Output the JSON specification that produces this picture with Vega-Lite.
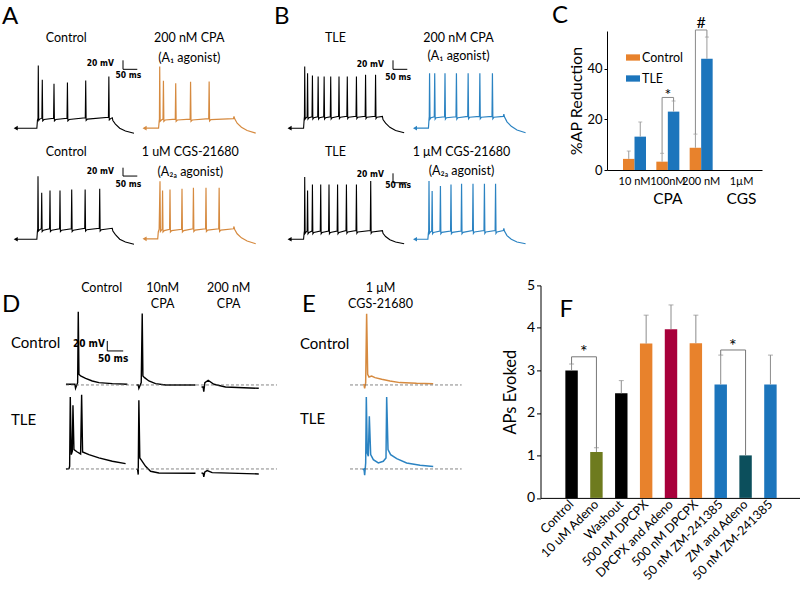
{
"$schema":"https://vega.github.io/schema/vega-lite/v6.json",
"background":"white",
"padding":{"left":2,"top":4,"right":0,"bottom":0},
"config":{"font":"Lato","view":{"stroke":null},
 "axis":{"labelColor":"#000","titleColor":"#000","domainColor":"#000","tickColor":"#000","grid":false,"titleFontWeight":"normal"},
 "legend":{"labelColor":"#000"},"text":{"color":"#000"}},
"datasets":{
"traces":[
{"id":"A1","t":6,"v":-77},{"id":"A1","t":80,"v":-77},{"id":"A1","t":82,"v":-60},{"id":"A1","t":84,"v":-55},{"id":"A1","t":85,"v":61},{"id":"A1","t":86.5,"v":-60},{"id":"A1","t":90,"v":-57},{"id":"A1","t":97.5,"v":-55},{"id":"A1","t":99,"v":29.3},{"id":"A1","t":100.5,"v":-61},{"id":"A1","t":105,"v":-58},{"id":"A1","t":138.5,"v":-55},{"id":"A1","t":140,"v":20.5},{"id":"A1","t":141.5,"v":-61},{"id":"A1","t":146,"v":-58},{"id":"A1","t":185.5,"v":-55},{"id":"A1","t":187,"v":23.4},{"id":"A1","t":188.5,"v":-61},{"id":"A1","t":193,"v":-58},{"id":"A1","t":249.5,"v":-54},{"id":"A1","t":251,"v":27.8},{"id":"A1","t":252.5,"v":-60},{"id":"A1","t":257,"v":-57},{"id":"A1","t":330.5,"v":-53},{"id":"A1","t":332,"v":36.7},{"id":"A1","t":333.5,"v":-59},{"id":"A1","t":338,"v":-56},{"id":"A1","t":344,"v":-54},{"id":"A1","t":346,"v":-60},{"id":"A1","t":355,"v":-68},{"id":"A1","t":370,"v":-77},{"id":"A1","t":390,"v":-83},{"id":"A1","t":420,"v":-88},
{"id":"A2","t":9,"v":-77},{"id":"A2","t":58,"v":-77},{"id":"A2","t":60,"v":-62},{"id":"A2","t":61,"v":-57},{"id":"A2","t":62,"v":58.6},{"id":"A2","t":63.5,"v":-62},{"id":"A2","t":68,"v":-59},{"id":"A2","t":73.5,"v":-57},{"id":"A2","t":75,"v":27.1},{"id":"A2","t":76.5,"v":-62},{"id":"A2","t":81,"v":-59},{"id":"A2","t":116.5,"v":-57},{"id":"A2","t":118,"v":22},{"id":"A2","t":119.5,"v":-62},{"id":"A2","t":124,"v":-59},{"id":"A2","t":168.5,"v":-57},{"id":"A2","t":170,"v":24.9},{"id":"A2","t":171.5,"v":-62},{"id":"A2","t":176,"v":-59},{"id":"A2","t":233.5,"v":-56},{"id":"A2","t":235,"v":25.6},{"id":"A2","t":236.5,"v":-61},{"id":"A2","t":241,"v":-58},{"id":"A2","t":320,"v":-56},{"id":"A2","t":322,"v":-51},{"id":"A2","t":324,"v":-56},{"id":"A2","t":333,"v":-66},{"id":"A2","t":348,"v":-75},{"id":"A2","t":368,"v":-82},{"id":"A2","t":398,"v":-88},
{"id":"A3","t":6,"v":-78},{"id":"A3","t":80,"v":-78},{"id":"A3","t":82,"v":-60},{"id":"A3","t":83,"v":-55},{"id":"A3","t":84,"v":60.8},{"id":"A3","t":85.5,"v":-60},{"id":"A3","t":90,"v":-57},{"id":"A3","t":95.5,"v":-55},{"id":"A3","t":97,"v":24.2},{"id":"A3","t":98.5,"v":-61},{"id":"A3","t":103,"v":-58},{"id":"A3","t":124.5,"v":-55},{"id":"A3","t":126,"v":29.3},{"id":"A3","t":127.5,"v":-61},{"id":"A3","t":132,"v":-58},{"id":"A3","t":159.5,"v":-55},{"id":"A3","t":161,"v":29.3},{"id":"A3","t":162.5,"v":-61},{"id":"A3","t":167,"v":-58},{"id":"A3","t":200.5,"v":-55},{"id":"A3","t":202,"v":31.5},{"id":"A3","t":203.5,"v":-61},{"id":"A3","t":208,"v":-58},{"id":"A3","t":247.5,"v":-54},{"id":"A3","t":249,"v":31.5},{"id":"A3","t":250.5,"v":-60},{"id":"A3","t":255,"v":-57},{"id":"A3","t":298.5,"v":-54},{"id":"A3","t":300,"v":33},{"id":"A3","t":301.5,"v":-60},{"id":"A3","t":306,"v":-57},{"id":"A3","t":344,"v":-54},{"id":"A3","t":346,"v":-60},{"id":"A3","t":355,"v":-68},{"id":"A3","t":370,"v":-78},{"id":"A3","t":390,"v":-84},{"id":"A3","t":420,"v":-89},
{"id":"A4","t":9,"v":-77},{"id":"A4","t":55,"v":-77},{"id":"A4","t":57,"v":-62},{"id":"A4","t":60,"v":-56},{"id":"A4","t":63,"v":49.8},{"id":"A4","t":64.5,"v":-61},{"id":"A4","t":68,"v":-58},{"id":"A4","t":70.5,"v":-56},{"id":"A4","t":72,"v":29.3},{"id":"A4","t":73.5,"v":-62},{"id":"A4","t":78,"v":-59},{"id":"A4","t":96.5,"v":-56},{"id":"A4","t":98,"v":31.5},{"id":"A4","t":99.5,"v":-62},{"id":"A4","t":104,"v":-59},{"id":"A4","t":138.5,"v":-56},{"id":"A4","t":140,"v":33},{"id":"A4","t":141.5,"v":-62},{"id":"A4","t":146,"v":-59},{"id":"A4","t":178.5,"v":-55},{"id":"A4","t":180,"v":35.2},{"id":"A4","t":181.5,"v":-61},{"id":"A4","t":186,"v":-58},{"id":"A4","t":222.5,"v":-55},{"id":"A4","t":224,"v":35.2},{"id":"A4","t":225.5,"v":-61},{"id":"A4","t":230,"v":-58},{"id":"A4","t":268.5,"v":-55},{"id":"A4","t":270,"v":35.2},{"id":"A4","t":271.5,"v":-61},{"id":"A4","t":276,"v":-58},{"id":"A4","t":320,"v":-55},{"id":"A4","t":322,"v":-50},{"id":"A4","t":324,"v":-56},{"id":"A4","t":333,"v":-66},{"id":"A4","t":348,"v":-75},{"id":"A4","t":368,"v":-82},{"id":"A4","t":398,"v":-88},
{"id":"B1","t":9,"v":-77},{"id":"B1","t":58,"v":-77},{"id":"B1","t":60,"v":-58},{"id":"B1","t":61,"v":-51},{"id":"B1","t":62,"v":58.7},{"id":"B1","t":63.5,"v":-57},{"id":"B1","t":67,"v":-54},{"id":"B1","t":70.5,"v":-52},{"id":"B1","t":72,"v":44},{"id":"B1","t":73.5,"v":-57},{"id":"B1","t":77,"v":-54},{"id":"B1","t":87.5,"v":-52},{"id":"B1","t":89,"v":38.9},{"id":"B1","t":90.5,"v":-57},{"id":"B1","t":94,"v":-54},{"id":"B1","t":107.5,"v":-52},{"id":"B1","t":109,"v":36.7},{"id":"B1","t":110.5,"v":-57},{"id":"B1","t":114,"v":-54},{"id":"B1","t":128.5,"v":-52},{"id":"B1","t":130,"v":36.7},{"id":"B1","t":131.5,"v":-57},{"id":"B1","t":135,"v":-54},{"id":"B1","t":151.5,"v":-52},{"id":"B1","t":153,"v":36.7},{"id":"B1","t":154.5,"v":-57},{"id":"B1","t":158,"v":-54},{"id":"B1","t":180.5,"v":-51},{"id":"B1","t":182,"v":36.7},{"id":"B1","t":183.5,"v":-56},{"id":"B1","t":187,"v":-53},{"id":"B1","t":209.5,"v":-51},{"id":"B1","t":211,"v":36.7},{"id":"B1","t":212.5,"v":-56},{"id":"B1","t":216,"v":-53},{"id":"B1","t":241.5,"v":-51},{"id":"B1","t":243,"v":36.7},{"id":"B1","t":244.5,"v":-56},{"id":"B1","t":248,"v":-53},{"id":"B1","t":273.5,"v":-51},{"id":"B1","t":275,"v":40.4},{"id":"B1","t":276.5,"v":-56},{"id":"B1","t":280,"v":-53},{"id":"B1","t":308.5,"v":-51},{"id":"B1","t":310,"v":40.4},{"id":"B1","t":311.5,"v":-56},{"id":"B1","t":315,"v":-53},{"id":"B1","t":334,"v":-51},{"id":"B1","t":336,"v":-58},{"id":"B1","t":345,"v":-66},{"id":"B1","t":360,"v":-75},{"id":"B1","t":380,"v":-82},{"id":"B1","t":410,"v":-87},
{"id":"B2","t":0,"v":-77},{"id":"B2","t":47,"v":-77},{"id":"B2","t":49,"v":-58},{"id":"B2","t":50,"v":-51},{"id":"B2","t":51,"v":44},{"id":"B2","t":52.5,"v":-57},{"id":"B2","t":56,"v":-54},{"id":"B2","t":67.5,"v":-52},{"id":"B2","t":69,"v":44},{"id":"B2","t":70.5,"v":-57},{"id":"B2","t":74,"v":-54},{"id":"B2","t":103.5,"v":-52},{"id":"B2","t":105,"v":44},{"id":"B2","t":106.5,"v":-57},{"id":"B2","t":110,"v":-54},{"id":"B2","t":143.5,"v":-52},{"id":"B2","t":145,"v":44},{"id":"B2","t":146.5,"v":-57},{"id":"B2","t":150,"v":-54},{"id":"B2","t":184.5,"v":-51},{"id":"B2","t":186,"v":44},{"id":"B2","t":187.5,"v":-56},{"id":"B2","t":191,"v":-53},{"id":"B2","t":225.5,"v":-51},{"id":"B2","t":227,"v":44},{"id":"B2","t":228.5,"v":-56},{"id":"B2","t":232,"v":-53},{"id":"B2","t":269.5,"v":-51},{"id":"B2","t":271,"v":44},{"id":"B2","t":272.5,"v":-56},{"id":"B2","t":276,"v":-53},{"id":"B2","t":309,"v":-51},{"id":"B2","t":311,"v":-46},{"id":"B2","t":313,"v":-52},{"id":"B2","t":322,"v":-63},{"id":"B2","t":337,"v":-73},{"id":"B2","t":357,"v":-81},{"id":"B2","t":387,"v":-87},
{"id":"B3","t":9,"v":-78},{"id":"B3","t":58,"v":-78},{"id":"B3","t":60,"v":-64},{"id":"B3","t":61,"v":-60},{"id":"B3","t":62,"v":58.8},{"id":"B3","t":63.5,"v":-65},{"id":"B3","t":67,"v":-62},{"id":"B3","t":70.5,"v":-60},{"id":"B3","t":72,"v":29.4},{"id":"B3","t":73.5,"v":-66},{"id":"B3","t":77,"v":-63},{"id":"B3","t":87.5,"v":-60},{"id":"B3","t":89,"v":42.6},{"id":"B3","t":90.5,"v":-66},{"id":"B3","t":94,"v":-63},{"id":"B3","t":116.5,"v":-60},{"id":"B3","t":118,"v":42.6},{"id":"B3","t":119.5,"v":-66},{"id":"B3","t":123,"v":-63},{"id":"B3","t":145.5,"v":-60},{"id":"B3","t":147,"v":42.6},{"id":"B3","t":148.5,"v":-66},{"id":"B3","t":152,"v":-63},{"id":"B3","t":175.5,"v":-60},{"id":"B3","t":177,"v":42.6},{"id":"B3","t":178.5,"v":-66},{"id":"B3","t":182,"v":-63},{"id":"B3","t":206.5,"v":-59},{"id":"B3","t":208,"v":42.6},{"id":"B3","t":209.5,"v":-65},{"id":"B3","t":213,"v":-62},{"id":"B3","t":241.5,"v":-59},{"id":"B3","t":243,"v":42.6},{"id":"B3","t":244.5,"v":-65},{"id":"B3","t":248,"v":-62},{"id":"B3","t":291.5,"v":-59},{"id":"B3","t":293,"v":50},{"id":"B3","t":294.5,"v":-65},{"id":"B3","t":298,"v":-62},{"id":"B3","t":334,"v":-59},{"id":"B3","t":336,"v":-65},{"id":"B3","t":345,"v":-72},{"id":"B3","t":360,"v":-79},{"id":"B3","t":380,"v":-84},{"id":"B3","t":410,"v":-88},
{"id":"B4","t":0,"v":-78},{"id":"B4","t":45,"v":-78},{"id":"B4","t":47,"v":-64},{"id":"B4","t":48,"v":-60},{"id":"B4","t":49,"v":50},{"id":"B4","t":50.5,"v":-65},{"id":"B4","t":54,"v":-62},{"id":"B4","t":58.5,"v":-60},{"id":"B4","t":60,"v":28},{"id":"B4","t":61.5,"v":-66},{"id":"B4","t":65,"v":-63},{"id":"B4","t":87.5,"v":-60},{"id":"B4","t":89,"v":39},{"id":"B4","t":90.5,"v":-66},{"id":"B4","t":94,"v":-63},{"id":"B4","t":124.5,"v":-60},{"id":"B4","t":126,"v":42.6},{"id":"B4","t":127.5,"v":-66},{"id":"B4","t":131,"v":-63},{"id":"B4","t":161.5,"v":-60},{"id":"B4","t":163,"v":44},{"id":"B4","t":164.5,"v":-66},{"id":"B4","t":168,"v":-63},{"id":"B4","t":201.5,"v":-59},{"id":"B4","t":203,"v":44},{"id":"B4","t":204.5,"v":-65},{"id":"B4","t":208,"v":-62},{"id":"B4","t":241.5,"v":-59},{"id":"B4","t":243,"v":44},{"id":"B4","t":244.5,"v":-65},{"id":"B4","t":248,"v":-62},{"id":"B4","t":280.5,"v":-59},{"id":"B4","t":282,"v":44},{"id":"B4","t":283.5,"v":-65},{"id":"B4","t":287,"v":-62},{"id":"B4","t":309,"v":-59},{"id":"B4","t":311,"v":-54},{"id":"B4","t":313,"v":-60},{"id":"B4","t":322,"v":-70},{"id":"B4","t":337,"v":-78},{"id":"B4","t":357,"v":-84},{"id":"B4","t":387,"v":-88},
{"id":"D1a","t":0,"v":-70.7},{"id":"D1a","t":28,"v":-70.7},{"id":"D1a","t":30,"v":-78.3},{"id":"D1a","t":36.5,"v":-67.6},{"id":"D1a","t":38.5,"v":65.7},{"id":"D1a","t":40.6,"v":-52},{"id":"D1a","t":45.8,"v":-55.1},{"id":"D1a","t":61.5,"v":-59.5},{"id":"D1a","t":82.3,"v":-64.5},{"id":"D1a","t":103,"v":-67.6},{"id":"D1a","t":145,"v":-69.5},{"id":"D1a","t":192,"v":-70.7},
{"id":"D1b","t":221,"v":-72},{"id":"D1b","t":226,"v":-72},{"id":"D1b","t":228,"v":-78.3},{"id":"D1b","t":235.4,"v":-67.6},{"id":"D1b","t":238.5,"v":62.6},{"id":"D1b","t":240.6,"v":-55.1},{"id":"D1b","t":245.8,"v":-58.2},{"id":"D1b","t":259.4,"v":-64.5},{"id":"D1b","t":280.2,"v":-69.5},{"id":"D1b","t":311.5,"v":-72},{"id":"D1b","t":405,"v":-72},
{"id":"D1c","t":424,"v":-75.8},{"id":"D1c","t":429,"v":-75.8},{"id":"D1c","t":431,"v":-84.5},{"id":"D1c","t":434.4,"v":-67.6},{"id":"D1c","t":444.8,"v":-63.2},{"id":"D1c","t":462.5,"v":-70.7},{"id":"D1c","t":499,"v":-75.8},{"id":"D1c","t":603,"v":-78.3},
{"id":"D2a","t":0,"v":-72},{"id":"D2a","t":9.4,"v":-71.4},{"id":"D2a","t":11.5,"v":-67},{"id":"D2a","t":13.5,"v":63.2},{"id":"D2a","t":16.7,"v":-45.1},{"id":"D2a","t":19.8,"v":-38.8},{"id":"D2a","t":21.9,"v":47.6},{"id":"D2a","t":25,"v":-35.7},{"id":"D2a","t":35.4,"v":-40.1},{"id":"D2a","t":45.8,"v":-43.8},{"id":"D2a","t":49,"v":67.6},{"id":"D2a","t":52,"v":-40.1},{"id":"D2a","t":71.9,"v":-45.1},{"id":"D2a","t":103,"v":-51.3},{"id":"D2a","t":145,"v":-57.6},{"id":"D2a","t":186.5,"v":-62},
{"id":"D2b","t":221,"v":-72},{"id":"D2b","t":224,"v":-73.3},{"id":"D2b","t":226,"v":-82.6},{"id":"D2b","t":228,"v":57},{"id":"D2b","t":231,"v":-51.3},{"id":"D2b","t":236.4,"v":-55.7},{"id":"D2b","t":249,"v":-67},{"id":"D2b","t":264.6,"v":-76.4},{"id":"D2b","t":290.6,"v":-79.5},{"id":"D2b","t":405,"v":-80.1},
{"id":"D2c","t":424,"v":-79.5},{"id":"D2c","t":429,"v":-80.1},{"id":"D2c","t":431,"v":-87},{"id":"D2c","t":434.4,"v":-77.6},{"id":"D2c","t":441.7,"v":-75.1},{"id":"D2c","t":457.3,"v":-78.9},{"id":"D2c","t":603,"v":-81.4},
{"id":"E1","t":41.7,"v":-70.7},{"id":"E1","t":43.8,"v":-72},{"id":"E1","t":45.8,"v":-78.3},{"id":"E1","t":49,"v":-67.6},{"id":"E1","t":52,"v":62},{"id":"E1","t":55.2,"v":-52},{"id":"E1","t":59.4,"v":-57},{"id":"E1","t":67.7,"v":-55.1},{"id":"E1","t":78.1,"v":-58.2},{"id":"E1","t":99,"v":-61.4},{"id":"E1","t":125,"v":-64.5},{"id":"E1","t":156,"v":-67.6},{"id":"E1","t":208,"v":-68.9},{"id":"E1","t":260,"v":-69.5},
{"id":"E2","t":39.6,"v":-73.3},{"id":"E2","t":43.8,"v":-72},{"id":"E2","t":45.8,"v":-83.9},{"id":"E2","t":49,"v":-60.7},{"id":"E2","t":51,"v":63.2},{"id":"E2","t":54,"v":-42},{"id":"E2","t":57.3,"v":-48.2},{"id":"E2","t":60.4,"v":26.9},{"id":"E2","t":64.6,"v":-45.1},{"id":"E2","t":72.9,"v":-54.5},{"id":"E2","t":88.5,"v":-60.7},{"id":"E2","t":104,"v":-57.6},{"id":"E2","t":112.5,"v":-51.3},{"id":"E2","t":114.6,"v":63.2},{"id":"E2","t":118.8,"v":-35.7},{"id":"E2","t":127,"v":-45.1},{"id":"E2","t":146,"v":-52.6},{"id":"E2","t":177,"v":-60.7},{"id":"E2","t":219,"v":-65.1},{"id":"E2","t":260,"v":-67.6}
],
"cbars":[
{"conc":"10 nM","group":"Control","mean":4.4,"err":7.5},
{"conc":"10 nM","group":"TLE","mean":13.2,"err":19},
{"conc":"100nM","group":"Control","mean":3.3,"err":6.6},
{"conc":"100nM","group":"TLE","mean":23.1,"err":27.3},
{"conc":"200 nM","group":"Control","mean":8.8,"err":14.2},
{"conc":"200 nM","group":"TLE","mean":44,"err":52.6}
],
"cbr":[
{"b":"b1","k":1,"conc":"100nM","group":"Control","val":6.6},
{"b":"b1","k":2,"conc":"100nM","group":"Control","val":28.7},
{"b":"b1","k":3,"conc":"100nM","group":"TLE","val":28.7},
{"b":"b1","k":4,"conc":"100nM","group":"TLE","val":27.3},
{"b":"b2","k":1,"conc":"200 nM","group":"Control","val":14.2},
{"b":"b2","k":2,"conc":"200 nM","group":"Control","val":55.4},
{"b":"b2","k":3,"conc":"200 nM","group":"TLE","val":55.4},
{"b":"b2","k":4,"conc":"200 nM","group":"TLE","val":52.6}
],
"cmarks":[
{"conc":"100nM","val":29.5,"sym":"*"},
{"conc":"200 nM","val":58,"sym":"#"}
],
"fbars":[
{"label":"Control","mean":3.0,"err":3.15},
{"label":"10 uM Adeno","mean":1.08,"err":1.18},
{"label":"Washout","mean":2.46,"err":2.76},
{"label":"500 nM DPCPX","mean":3.63,"err":4.3},
{"label":"DPCPX and Adeno","mean":3.97,"err":4.54},
{"label":"500 nM DPCPX ","mean":3.64,"err":4.3},
{"label":"50 nM ZM-241385","mean":2.67,"err":3.36},
{"label":"ZM and Adeno","mean":1.0,"err":null},
{"label":"50 nM ZM-241385 ","mean":2.67,"err":3.36}
],
"fbr":[
{"b":"b1","k":1,"label":"Control","val":3.15},
{"b":"b1","k":2,"label":"Control","val":3.32},
{"b":"b1","k":3,"label":"10 uM Adeno","val":3.32},
{"b":"b1","k":4,"label":"10 uM Adeno","val":1.18},
{"b":"b2","k":1,"label":"50 nM ZM-241385","val":3.36},
{"b":"b2","k":2,"label":"50 nM ZM-241385","val":3.48},
{"b":"b2","k":3,"label":"ZM and Adeno","val":3.48},
{"b":"b2","k":4,"label":"ZM and Adeno","val":1.0}
],
"fmarks":[
{"label":"Control","val":3.4,"sym":"*"},
{"label":"50 nM ZM-241385","val":3.56,"sym":"*"}
]
},
"resolve":{"scale":{"color":"independent"},"legend":{"color":"independent"}},
"spacing":31.4,
"vconcat":[
{"spacing":17,"resolve":{"scale":{"color":"independent"},"legend":{"color":"independent"}},
 "hconcat":[
 {"spacing":12,"hconcat":[
  {"bounds":"flush","columns":2,"spacing":{"row":34.6,"column":8},"concat":[
    {"width":120,"height":104,"layer":[
     {"data":{"name":"traces"},"transform":[{"filter":"datum.id==='A1'"}],"mark":{"type":"line","color":"#000","strokeWidth":1.1,"clip":false},
      "encoding":{"x":{"field":"t","type":"quantitative","scale":{"domain":[0,420],"nice":false,"zero":false},"axis":{"orient":"top","values":[181],"labelExpr":"['Control','']","domain":false,"ticks":false,"tickSize":0,"labelPadding":0,"offset":-13.8,"labelFontSize":12.5,"labelLineHeight":20,"labelFlush":false,"labelOverlap":false,"labelBound":false,"title":null}},
      "y":{"field":"v","type":"quantitative","scale":{"domain":[-92,136.8],"nice":false,"zero":false},"axis":null}}},
     {"data":{"values":[{}]},"mark":{"type":"point","shape":"triangle-left","filled":true,"size":22,"color":"#000","opacity":1},"encoding":{"x":{"datum":6},"y":{"datum":-77}}},
     {"data":{"values":[{}]},"mark":{"type":"rule","color":"#000","strokeWidth":1},"encoding":{"x":{"datum":381.5},"y":{"datum":52.5},"y2":{"datum":72.3}}},
     {"data":{"values":[{}]},"mark":{"type":"rule","color":"#000","strokeWidth":1},"encoding":{"x":{"datum":381.5},"x2":{"datum":431.5},"y":{"datum":52.5}}},
     {"data":{"values":[{}]},"mark":{"type":"text","align":"right","baseline":"middle","font":"DejaVu Sans Condensed, Liberation Sans, sans-serif","fontWeight":"bold","fontSize":8.5},"encoding":{"x":{"datum":350},"y":{"datum":67},"text":{"value":"20 mV"}}},
     {"data":{"values":[{}]},"mark":{"type":"text","align":"center","baseline":"middle","font":"DejaVu Sans Condensed, Liberation Sans, sans-serif","fontWeight":"bold","fontSize":8.5},"encoding":{"x":{"datum":400},"y":{"datum":40},"text":{"value":"50 ms"}}},
     {"data":{"values":[{}]},"mark":{"type":"text","align":"left","baseline":"alphabetic","fontSize":24},"encoding":{"x":{"datum":-42},"y":{"datum":153.3},"text":{"value":"A"}}}
    ]},
    {"width":120,"height":104,"layer":[
     {"data":{"name":"traces"},"transform":[{"filter":"datum.id==='A2'"}],"mark":{"type":"line","color":"#D68A3F","strokeWidth":1.2,"clip":false},
      "encoding":{"x":{"field":"t","type":"quantitative","scale":{"domain":[0,420],"nice":false,"zero":false},"axis":{"orient":"top","values":[163.5],"labelExpr":"['200 nM CPA','(A₁ agonist)']","domain":false,"ticks":false,"tickSize":0,"labelPadding":0,"offset":-13.8,"labelFontSize":12.5,"labelLineHeight":20,"labelFlush":false,"labelOverlap":false,"labelBound":false,"title":null}},
      "y":{"field":"v","type":"quantitative","scale":{"domain":[-92,136.8],"nice":false,"zero":false},"axis":null}}},
     {"data":{"values":[{}]},"mark":{"type":"point","shape":"triangle-left","filled":true,"size":22,"color":"#D68A3F","opacity":1},"encoding":{"x":{"datum":9},"y":{"datum":-77}}}
    ]},
    {"width":120,"height":76,"layer":[
     {"data":{"name":"traces"},"transform":[{"filter":"datum.id==='A3'"}],"mark":{"type":"line","color":"#000","strokeWidth":1.1,"clip":false},
      "encoding":{"x":{"field":"t","type":"quantitative","scale":{"domain":[0,420],"nice":false,"zero":false},"axis":{"orient":"top","values":[181],"labelExpr":"['Control','']","domain":false,"ticks":false,"tickSize":0,"labelPadding":0,"offset":10.8,"labelFontSize":12.5,"labelLineHeight":19.3,"labelFlush":false,"labelOverlap":false,"labelBound":false,"title":null}},
      "y":{"field":"v","type":"quantitative","scale":{"domain":[-92,75.2],"nice":false,"zero":false},"axis":null}}},
     {"data":{"values":[{}]},"mark":{"type":"point","shape":"triangle-left","filled":true,"size":22,"color":"#000","opacity":1},"encoding":{"x":{"datum":6},"y":{"datum":-78}}},
     {"data":{"values":[{}]},"mark":{"type":"rule","color":"#000","strokeWidth":1},"encoding":{"x":{"datum":381.5},"y":{"datum":61},"y2":{"datum":79.4}}},
     {"data":{"values":[{}]},"mark":{"type":"rule","color":"#000","strokeWidth":1},"encoding":{"x":{"datum":381.5},"x2":{"datum":431.5},"y":{"datum":61}}},
     {"data":{"values":[{}]},"mark":{"type":"text","align":"right","baseline":"middle","font":"DejaVu Sans Condensed, Liberation Sans, sans-serif","fontWeight":"bold","fontSize":8.5},"encoding":{"x":{"datum":350},"y":{"datum":72.1},"text":{"value":"20 mV"}}},
     {"data":{"values":[{}]},"mark":{"type":"text","align":"center","baseline":"middle","font":"DejaVu Sans Condensed, Liberation Sans, sans-serif","fontWeight":"bold","fontSize":8.5},"encoding":{"x":{"datum":400},"y":{"datum":44.2},"text":{"value":"50 ms"}}}
    ]},
    {"width":120,"height":76,"layer":[
     {"data":{"name":"traces"},"transform":[{"filter":"datum.id==='A4'"}],"mark":{"type":"line","color":"#D68A3F","strokeWidth":1.2,"clip":false},
      "encoding":{"x":{"field":"t","type":"quantitative","scale":{"domain":[0,420],"nice":false,"zero":false},"axis":{"orient":"top","values":[167.3],"labelExpr":"['1 uM CGS-21680','(A₂ₐ agonist)']","domain":false,"ticks":false,"tickSize":0,"labelPadding":0,"offset":10.8,"labelFontSize":12.5,"labelLineHeight":19.3,"labelFlush":false,"labelOverlap":false,"labelBound":false,"title":null}},
      "y":{"field":"v","type":"quantitative","scale":{"domain":[-92,75.2],"nice":false,"zero":false},"axis":null}}},
     {"data":{"values":[{}]},"mark":{"type":"point","shape":"triangle-left","filled":true,"size":22,"color":"#D68A3F","opacity":1},"encoding":{"x":{"datum":9},"y":{"datum":-77}}}
    ]}
  ]},
  {"bounds":"flush","columns":2,"spacing":{"row":34.6,"column":8},"concat":[
    {"width":120,"height":104,"layer":[
     {"data":{"name":"traces"},"transform":[{"filter":"datum.id==='B1'"}],"mark":{"type":"line","color":"#000","strokeWidth":1.1,"clip":false},
      "encoding":{"x":{"field":"t","type":"quantitative","scale":{"domain":[0,420],"nice":false,"zero":false},"axis":{"orient":"top","values":[168],"labelExpr":"['TLE','']","domain":false,"ticks":false,"tickSize":0,"labelPadding":0,"offset":-13.8,"labelFontSize":12.5,"labelLineHeight":17.6,"labelFlush":false,"labelOverlap":false,"labelBound":false,"title":null}},
      "y":{"field":"v","type":"quantitative","scale":{"domain":[-92,136.8],"nice":false,"zero":false},"axis":null}}},
     {"data":{"values":[{}]},"mark":{"type":"point","shape":"triangle-left","filled":true,"size":22,"color":"#000","opacity":1},"encoding":{"x":{"datum":9},"y":{"datum":-77}}},
     {"data":{"values":[{}]},"mark":{"type":"rule","color":"#000","strokeWidth":1},"encoding":{"x":{"datum":371},"y":{"datum":52.5},"y2":{"datum":72.3}}},
     {"data":{"values":[{}]},"mark":{"type":"rule","color":"#000","strokeWidth":1},"encoding":{"x":{"datum":371},"x2":{"datum":421},"y":{"datum":52.5}}},
     {"data":{"values":[{}]},"mark":{"type":"text","align":"right","baseline":"middle","font":"DejaVu Sans Condensed, Liberation Sans, sans-serif","fontWeight":"bold","fontSize":8.5},"encoding":{"x":{"datum":339.5},"y":{"datum":63.5},"text":{"value":"20 mV"}}},
     {"data":{"values":[{}]},"mark":{"type":"text","align":"center","baseline":"middle","font":"DejaVu Sans Condensed, Liberation Sans, sans-serif","fontWeight":"bold","fontSize":8.5},"encoding":{"x":{"datum":388.7},"y":{"datum":35.6},"text":{"value":"50 ms"}}},
     {"data":{"values":[{}]},"mark":{"type":"text","align":"left","baseline":"alphabetic","fontSize":24},"encoding":{"x":{"datum":-45.5},"y":{"datum":153.3},"text":{"value":"B"}}}
    ]},
    {"width":120,"height":104,"layer":[
     {"data":{"name":"traces"},"transform":[{"filter":"datum.id==='B2'"}],"mark":{"type":"line","color":"#2B83C2","strokeWidth":1.2,"clip":false},
      "encoding":{"x":{"field":"t","type":"quantitative","scale":{"domain":[0,420],"nice":false,"zero":false},"axis":{"orient":"top","values":[150.5],"labelExpr":"['200 nM CPA','(A₁ agonist)']","domain":false,"ticks":false,"tickSize":0,"labelPadding":0,"offset":-13.8,"labelFontSize":12.5,"labelLineHeight":17.6,"labelFlush":false,"labelOverlap":false,"labelBound":false,"title":null}},
      "y":{"field":"v","type":"quantitative","scale":{"domain":[-92,136.8],"nice":false,"zero":false},"axis":null}}},
     {"data":{"values":[{}]},"mark":{"type":"point","shape":"triangle-left","filled":true,"size":22,"color":"#2B83C2","opacity":1},"encoding":{"x":{"datum":0},"y":{"datum":-77}}}
    ]},
    {"width":120,"height":76,"layer":[
     {"data":{"name":"traces"},"transform":[{"filter":"datum.id==='B3'"}],"mark":{"type":"line","color":"#000","strokeWidth":1.1,"clip":false},
      "encoding":{"x":{"field":"t","type":"quantitative","scale":{"domain":[0,420],"nice":false,"zero":false},"axis":{"orient":"top","values":[168],"labelExpr":"['TLE','']","domain":false,"ticks":false,"tickSize":0,"labelPadding":0,"offset":10.8,"labelFontSize":12.5,"labelLineHeight":18.6,"labelFlush":false,"labelOverlap":false,"labelBound":false,"title":null}},
      "y":{"field":"v","type":"quantitative","scale":{"domain":[-92,75.2],"nice":false,"zero":false},"axis":null}}},
     {"data":{"values":[{}]},"mark":{"type":"point","shape":"triangle-left","filled":true,"size":22,"color":"#000","opacity":1},"encoding":{"x":{"datum":9},"y":{"datum":-78}}},
     {"data":{"values":[{}]},"mark":{"type":"rule","color":"#000","strokeWidth":1},"encoding":{"x":{"datum":371},"y":{"datum":46.4},"y2":{"datum":67}}},
     {"data":{"values":[{}]},"mark":{"type":"rule","color":"#000","strokeWidth":1},"encoding":{"x":{"datum":371},"x2":{"datum":421},"y":{"datum":46.4}}},
     {"data":{"values":[{}]},"mark":{"type":"text","align":"right","baseline":"middle","font":"DejaVu Sans Condensed, Liberation Sans, sans-serif","fontWeight":"bold","fontSize":8.5},"encoding":{"x":{"datum":339.5},"y":{"datum":64.8},"text":{"value":"20 mV"}}},
     {"data":{"values":[{}]},"mark":{"type":"text","align":"center","baseline":"middle","font":"DejaVu Sans Condensed, Liberation Sans, sans-serif","fontWeight":"bold","fontSize":8.5},"encoding":{"x":{"datum":388.7},"y":{"datum":40.7},"text":{"value":"50 ms"}}}
    ]},
    {"width":120,"height":76,"layer":[
     {"data":{"name":"traces"},"transform":[{"filter":"datum.id==='B4'"}],"mark":{"type":"line","color":"#2B83C2","strokeWidth":1.2,"clip":false},
      "encoding":{"x":{"field":"t","type":"quantitative","scale":{"domain":[0,420],"nice":false,"zero":false},"axis":{"orient":"top","values":[161],"labelExpr":"['1 μM CGS-21680','(A₂ₐ agonist)']","domain":false,"ticks":false,"tickSize":0,"labelPadding":0,"offset":10.8,"labelFontSize":12.5,"labelLineHeight":18.6,"labelFlush":false,"labelOverlap":false,"labelBound":false,"title":null}},
      "y":{"field":"v","type":"quantitative","scale":{"domain":[-92,75.2],"nice":false,"zero":false},"axis":null}}},
     {"data":{"values":[{}]},"mark":{"type":"point","shape":"triangle-left","filled":true,"size":22,"color":"#2B83C2","opacity":1},"encoding":{"x":{"datum":0},"y":{"datum":-78}}}
    ]}
  ]}
 ]},
  {"width":155,"height":139,"layer":[
   {"data":{"name":"cbars"},"mark":{"type":"bar"},"encoding":{
    "x":{"field":"conc","type":"nominal","sort":null,"scale":{"domain":["10 nM","100nM","200 nM","1µM"],"paddingInner":0.31,"paddingOuter":0.48},"axis":{"title":null,"labelAngle":0,"labelFontSize":11,"ticks":false,"labelPadding":5,"labelOverlap":false,"labelExpr":"datum.value == '10 nM' ? '10 nM\u00a0\u00a0' : datum.value","labelOffset":{"condition":{"test":"datum.value == '1µM'","value":7},"value":0}}},
    "xOffset":{"field":"group","type":"nominal","scale":{"domain":["Control","TLE"],"paddingInner":0,"paddingOuter":0}},
    "y":{"field":"mean","type":"quantitative","scale":{"domain":[0,55],"nice":false},"axis":{"title":"%AP Reduction","titleFontSize":16,"values":[0,10,20,30,40,50],"labelFontSize":13,"tickSize":3,"labelPadding":2,"titlePadding":2,"labelOverlap":false}},
    "color":{"field":"group","type":"nominal","scale":{"domain":["Control","TLE"],"range":["#E8822C","#1C75BC"]},"legend":{"title":null,"orient":"none","legendX":19,"legendY":19.5,"symbolType":"M-1,-0.45H1V0.45H-1Z","symbolSize":196,"symbolStrokeWidth":0,"labelFontSize":12.5,"rowPadding":7,"labelOffset":2}}}},
   {"data":{"name":"cbars"},"mark":{"type":"rule","color":"#9a9a9a","strokeWidth":1},"encoding":{"x":{"field":"conc","type":"nominal","sort":null},"xOffset":{"field":"group","type":"nominal"},"y":{"field":"mean","type":"quantitative"},"y2":{"field":"err"}}},
   {"data":{"name":"cbars"},"mark":{"type":"tick","color":"#9a9a9a","thickness":1,"size":4},"encoding":{"x":{"field":"conc","type":"nominal","sort":null},"xOffset":{"field":"group","type":"nominal"},"y":{"field":"err","type":"quantitative"}}},
   {"data":{"name":"cbr"},"mark":{"type":"line","color":"#8a8a8a","strokeWidth":1,"clip":false},"encoding":{"x":{"field":"conc","type":"nominal","sort":null},"xOffset":{"field":"group","type":"nominal"},"y":{"field":"val","type":"quantitative"},"detail":{"field":"b"},"order":{"field":"k"}}},
   {"data":{"name":"cmarks"},"mark":{"type":"text","baseline":"middle","fontSize":16,"color":"#000","fill":"#000"},"encoding":{"x":{"field":"conc","type":"nominal","sort":null},"y":{"field":"val","type":"quantitative"},"text":{"field":"sym"}}},
   {"data":{"values":[{}]},"mark":{"type":"text","baseline":"middle","fontSize":15.5},"encoding":{"x":{"datum":"100nM"},"y":{"datum":-11.4},"text":{"value":"CPA"}}},
   {"data":{"values":[{}]},"mark":{"type":"text","baseline":"middle","fontSize":15.5,"dx":7},"encoding":{"x":{"datum":"1µM"},"y":{"datum":-11.4},"text":{"value":"CGS"}}},
   {"data":{"values":[{}]},"mark":{"type":"text","align":"left","baseline":"alphabetic","fontSize":24,"dx":-82.5},"encoding":{"x":{"datum":"10 nM"},"y":{"datum":58.1},"text":{"value":"C"}}}
  ]}
 ]},
{"spacing":38.5,"resolve":{"scale":{"color":"independent"},"legend":{"color":"independent"}},
 "hconcat":[
 {"spacing":22,"hconcat":[
  {"bounds":"flush","spacing":0,"vconcat":[
   {"width":263,"height":107,"layer":[
    {"data":{"name":"traces"},"transform":[{"filter":"indexof(['D1a','D1b','D1c'], datum.id) >= 0"}],"mark":{"type":"line","color":"#000","strokeWidth":1.4,"clip":false},
     "encoding":{"x":{"field":"t","type":"quantitative","scale":{"domain":[-162.5,660],"nice":false,"zero":false},"axis":{"orient":"top","values":[110,301,507.3],"labelExpr":"datum.value < 200 ? ['Control',''] : datum.value < 400 ? ['10nM','CPA'] : ['200 nM','CPA']","domain":false,"ticks":false,"tickSize":0,"labelPadding":0,"offset":-8.6,"labelFontSize":12.5,"labelLineHeight":16,"labelFlush":false,"labelOverlap":false,"labelBound":false,"title":null}},
     "y":{"field":"v","type":"quantitative","scale":{"domain":[-86,115.3],"nice":false,"zero":false},"axis":null},
     "detail":{"field":"id"}}},
    {"data":{"values":[{}]},"mark":{"type":"rule","color":"#666","strokeWidth":0.8,"strokeDash":[3,2]},"encoding":{"x":{"datum":0},"x2":{"datum":660},"y":{"datum":-72}}},
    {"data":{"values":[{}]},"mark":{"type":"rule","color":"#000","strokeWidth":1},"encoding":{"x":{"datum":129.2},"y":{"datum":-8},"y2":{"datum":10.8}}},
    {"data":{"values":[{}]},"mark":{"type":"rule","color":"#000","strokeWidth":1},"encoding":{"x":{"datum":129.2},"x2":{"datum":179},"y":{"datum":-8}}},
    {"data":{"values":[{}]},"mark":{"type":"text","align":"right","baseline":"middle","font":"DejaVu Sans Condensed, Liberation Sans, sans-serif","fontWeight":"bold","fontSize":10},"encoding":{"x":{"datum":121.9},"y":{"datum":5.7},"text":{"value":"20 mV"}}},
    {"data":{"values":[{}]},"mark":{"type":"text","align":"center","baseline":"middle","font":"DejaVu Sans Condensed, Liberation Sans, sans-serif","fontWeight":"bold","fontSize":10},"encoding":{"x":{"datum":147.4},"y":{"datum":-23.6},"text":{"value":"50 ms"}}},
    {"data":{"values":[{}]},"mark":{"type":"text","align":"left","baseline":"middle","fontSize":15},"encoding":{"x":{"datum":-171.9},"y":{"datum":7.6},"text":{"value":"Control"}}},
    {"data":{"values":[{}]},"mark":{"type":"text","align":"left","baseline":"alphabetic","fontSize":24},"encoding":{"x":{"datum":-200},"y":{"datum":65.4},"text":{"value":"D"}}}
   ]},
   {"width":263,"height":84,"layer":[
    {"data":{"name":"traces"},"transform":[{"filter":"indexof(['D2a','D2b','D2c'], datum.id) >= 0"}],"mark":{"type":"line","color":"#000","strokeWidth":1.4,"clip":false},
     "encoding":{"x":{"field":"t","type":"quantitative","scale":{"domain":[-162.5,660],"nice":false,"zero":false},"axis":null},
     "y":{"field":"v","type":"quantitative","scale":{"domain":[-86,72],"nice":false,"zero":false},"axis":null},
     "detail":{"field":"id"}}},
    {"data":{"values":[{}]},"mark":{"type":"rule","color":"#666","strokeWidth":0.8,"strokeDash":[3,2]},"encoding":{"x":{"datum":0},"x2":{"datum":660},"y":{"datum":-72}}},
    {"data":{"values":[{}]},"mark":{"type":"text","align":"left","baseline":"middle","fontSize":15},"encoding":{"x":{"datum":-171.9},"y":{"datum":19.7},"text":{"value":"TLE"}}}
   ]}
  ]},
  {"bounds":"flush","spacing":0,"vconcat":[
   {"width":112,"height":107,"layer":[
    {"data":{"name":"traces"},"transform":[{"filter":"datum.id==='E1'"}],"mark":{"type":"line","color":"#D68A3F","strokeWidth":1.5,"clip":false},
     "encoding":{"x":{"field":"t","type":"quantitative","scale":{"domain":[0,350],"nice":false,"zero":false},"axis":{"orient":"top","values":[94],"labelExpr":"['1 μM','CGS-21680']","domain":false,"ticks":false,"tickSize":0,"labelPadding":0,"offset":-8.6,"labelFontSize":12.5,"labelLineHeight":16,"labelFlush":false,"labelOverlap":false,"labelBound":false,"title":null}},
     "y":{"field":"v","type":"quantitative","scale":{"domain":[-86,115.3],"nice":false,"zero":false},"axis":null}}},
    {"data":{"values":[{}]},"mark":{"type":"rule","color":"#666","strokeWidth":0.8,"strokeDash":[3,2]},"encoding":{"x":{"datum":0},"x2":{"datum":349},"y":{"datum":-72}}},
    {"data":{"values":[{}]},"mark":{"type":"text","align":"left","baseline":"middle","fontSize":15},"encoding":{"x":{"datum":-156.25},"y":{"datum":4.6},"text":{"value":"Control"}}},
    {"data":{"values":[{}]},"mark":{"type":"text","align":"left","baseline":"alphabetic","fontSize":24},"encoding":{"x":{"datum":-150},"y":{"datum":65.4},"text":{"value":"E"}}}
   ]},
   {"width":112,"height":84,"layer":[
    {"data":{"name":"traces"},"transform":[{"filter":"datum.id==='E2'"}],"mark":{"type":"line","color":"#2B83C2","strokeWidth":1.5,"clip":false},
     "encoding":{"x":{"field":"t","type":"quantitative","scale":{"domain":[0,350],"nice":false,"zero":false},"axis":null},
     "y":{"field":"v","type":"quantitative","scale":{"domain":[-86,72],"nice":false,"zero":false},"axis":null}}},
    {"data":{"values":[{}]},"mark":{"type":"rule","color":"#666","strokeWidth":0.8,"strokeDash":[3,2]},"encoding":{"x":{"datum":0},"x2":{"datum":349},"y":{"datum":-72}}},
    {"data":{"values":[{}]},"mark":{"type":"text","align":"left","baseline":"middle","fontSize":15},"encoding":{"x":{"datum":-156.25},"y":{"datum":21.6},"text":{"value":"TLE"}}}
   ]}
  ]}
 ]},
  {"width":261,"height":212.5,"layer":[
   {"data":{"name":"fbars"},"mark":{"type":"bar"},"encoding":{
    "x":{"field":"label","type":"nominal","sort":null,"scale":{"domain":["Control","10 uM Adeno","Washout","500 nM DPCPX","DPCPX and Adeno","500 nM DPCPX ","50 nM ZM-241385","ZM and Adeno","50 nM ZM-241385 "],"paddingInner":0.5,"paddingOuter":1.09},"axis":{"title":null,"labelAngle":-45,"labelAlign":"right","labelBaseline":"middle","labelFontSize":12.5,"ticks":false,"labelPadding":4}},
    "y":{"field":"mean","type":"quantitative","scale":{"domain":[0,5],"nice":false},"axis":{"title":"APs Evoked","titleFontSize":16.5,"values":[0,1,2,3,4,5],"labelFontSize":14,"tickSize":4,"labelPadding":2,"titlePadding":8}},
    "color":{"field":"label","type":"nominal","scale":{"domain":["Control","10 uM Adeno","Washout","500 nM DPCPX","DPCPX and Adeno","500 nM DPCPX ","50 nM ZM-241385","ZM and Adeno","50 nM ZM-241385 "],"range":["#000000","#6E7B1E","#000000","#E8822C","#A8003B","#E8822C","#1C75BC","#0C4F5C","#1C75BC"]},"legend":null}}},
   {"data":{"name":"fbars"},"transform":[{"filter":"datum.err != null"}],"mark":{"type":"rule","color":"#8c8c8c","strokeWidth":1},"encoding":{"x":{"field":"label","type":"nominal","sort":null},"y":{"field":"mean","type":"quantitative"},"y2":{"field":"err"}}},
   {"data":{"name":"fbars"},"transform":[{"filter":"datum.err != null"}],"mark":{"type":"tick","color":"#8c8c8c","thickness":1,"size":5},"encoding":{"x":{"field":"label","type":"nominal","sort":null},"y":{"field":"err","type":"quantitative"}}},
   {"data":{"name":"fbr"},"mark":{"type":"line","color":"#777","strokeWidth":1},"encoding":{"x":{"field":"label","type":"nominal","sort":null},"y":{"field":"val","type":"quantitative"},"detail":{"field":"b"},"order":{"field":"k"}}},
   {"data":{"name":"fmarks"},"mark":{"type":"text","baseline":"middle","fontSize":18,"dx":12.2,"color":"#000","fill":"#000"},"encoding":{"x":{"field":"label","type":"nominal","sort":null},"y":{"field":"val","type":"quantitative"},"text":{"field":"sym"}}},
   {"data":{"values":[{}]},"mark":{"type":"text","align":"left","baseline":"alphabetic","fontSize":24,"dx":-12},"encoding":{"x":{"datum":"Control"},"y":{"datum":4.26},"text":{"value":"F"}}}
  ]}
 ]}
]
}
